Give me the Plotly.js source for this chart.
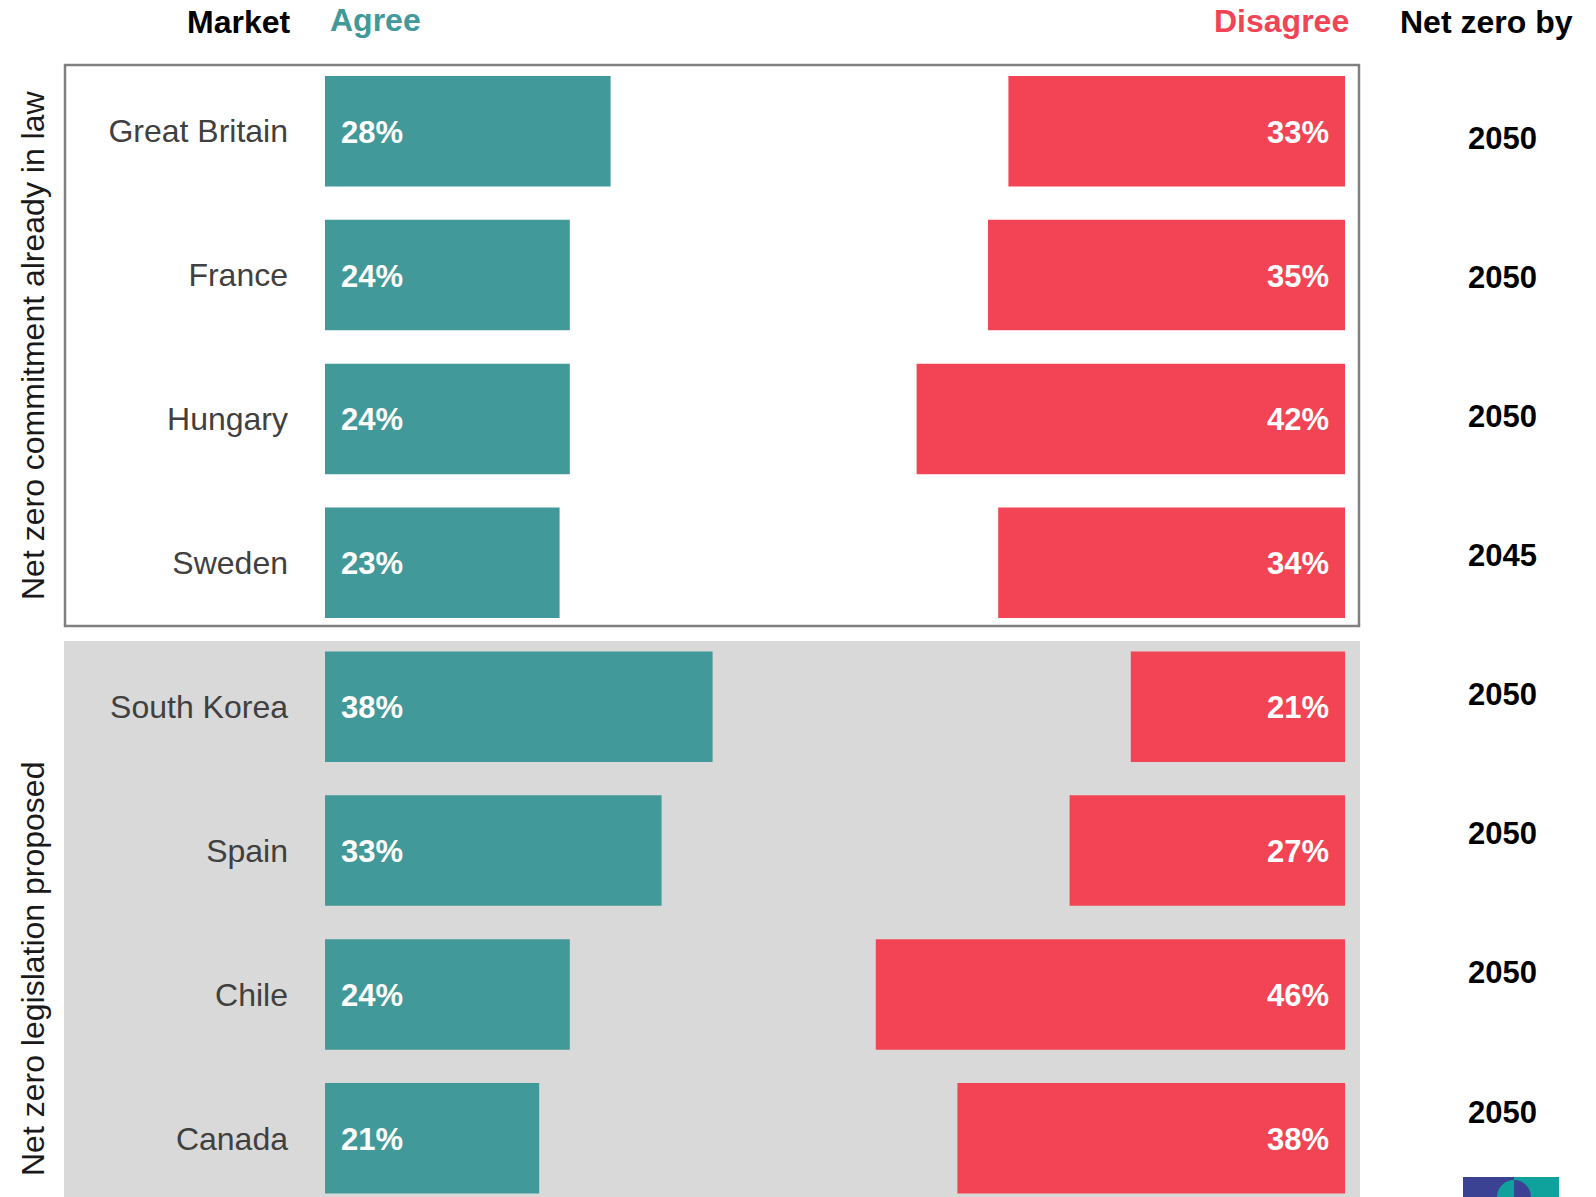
<!DOCTYPE html>
<html>
<head>
<meta charset="utf-8">
<script src="https://cdn.plot.ly/plotly-3.0.1.min.js"></script>
<style>html,body{margin:0;padding:0;background:#fff;}#chart{width:1596px;height:1197px;}</style>
</head>
<body>
<div id="chart"></div>
<script>
const markets = ['Great Britain','France','Hungary','Sweden','South Korea','Spain','Chile','Canada'];
const agree = [28, 24, 24, 23, 38, 33, 24, 21];
const disagree = [33, 35, 42, 34, 21, 27, 46, 38];
const netZeroBy = ['2050','2050','2050','2045','2050','2050','2050','2050'];
const groupLabels = ['Net zero commitment already in law', 'Net zero legislation proposed'];
const headerLabels = ['Market', 'Agree', 'Disagree', 'Net zero by'];

const TEAL = '#42999a';
const RED = '#f24455';
const FONT = 'Liberation Sans, Arial, sans-serif';
const W = 1596, H = 1197, L = 325, R = 1345;
const PW = R - L;
const px = v => (v - L) / PW;      // pixel x -> paper x
const py = v => 1 - v / H;         // pixel y -> paper y

const traces = [
  {
    type: 'bar', orientation: 'h', name: 'Agree',
    y: markets, x: agree, base: 0,
    xaxis: 'x', yaxis: 'y', width: 0.768,
    marker: {color: TEAL, line: {width: 0}},
    hoverinfo: 'skip'
  },
  {
    type: 'bar', orientation: 'h', name: 'Disagree',
    y: markets, x: disagree, base: 0,
    xaxis: 'x2', yaxis: 'y', width: 0.768,
    marker: {color: RED, line: {width: 0}},
    hoverinfo: 'skip'
  },
  {
    // carries the "Net zero by" column axis (y2); labels drawn as annotations
    type: 'scatter', mode: 'none', name: 'Net zero by',
    y: markets, x: markets.map(() => 50),
    xaxis: 'x', yaxis: 'y2', hoverinfo: 'skip'
  }
];

const annotations = [];
markets.forEach((m, i) => {
  annotations.push({
    xref: 'x', yref: 'y', x: 0, y: m, xanchor: 'left', yanchor: 'middle',
    xshift: 14, yshift: -1, showarrow: false, text: agree[i] + '%',
    font: {family: FONT, size: 31, color: '#ffffff', weight: 'bold'}
  });
  annotations.push({
    xref: 'x2', yref: 'y', x: 0, y: m, xanchor: 'right', yanchor: 'middle',
    xshift: -14, yshift: -1, showarrow: false, text: disagree[i] + '%',
    font: {family: FONT, size: 31, color: '#ffffff', weight: 'bold'}
  });
  annotations.push({
    xref: 'paper', yref: 'y2', x: px(1502), y: m, xanchor: 'center', yanchor: 'middle',
    showarrow: false, text: netZeroBy[i],
    font: {family: FONT, size: 31, color: '#000000', weight: 'bold'}
  });
});

const headerPos = [
  {x: px(293), y: py(22), anchor: 'right', color: '#000'},
  {x: px(328), y: py(20), anchor: 'left', color: TEAL},
  {x: px(1351), y: py(21), anchor: 'right', color: RED},
  {x: px(1398), y: py(22), anchor: 'left', color: '#000'}
];
headerLabels.forEach((t, i) => {
  const p = headerPos[i];
  annotations.push({
    xref: 'paper', yref: 'paper', x: p.x, y: p.y, xanchor: p.anchor, yanchor: 'middle',
    showarrow: false, text: t,
    font: {family: FONT, size: 32, color: p.color, weight: 'bold'}
  });
});

const groupY = [345, 969];
groupLabels.forEach((t, i) => {
  annotations.push({
    xref: 'paper', yref: 'paper', x: px(33), y: py(groupY[i]), xanchor: 'center', yanchor: 'middle',
    showarrow: false, text: t, textangle: -90,
    font: {family: FONT, size: 32, color: '#1a1a1a'}
  });
});

// logo (decorative, partly cut off at the bottom)
const cx = 1514, cy = 1197, rad = 17;
let half = '';
for (let k = 0; k <= 12; k++) {
  const a = -Math.PI / 2 + Math.PI * k / 12;
  const xx = cx + rad * Math.cos(a), yy = cy + rad * Math.sin(a);
  half += (k === 0 ? 'M ' : ' L ') + px(xx).toFixed(5) + ',' + py(yy).toFixed(5);
}
half += ' Z';

const shapes = [
  {type: 'rect', xref: 'paper', yref: 'paper', x0: px(64), x1: px(1360), y0: py(641), y1: py(1210),
   fillcolor: '#d9d9d9', line: {width: 0}, layer: 'below'},
  {type: 'rect', xref: 'paper', yref: 'paper', x0: px(65), x1: px(1359), y0: py(65), y1: py(626),
   fillcolor: '#ffffff', line: {color: '#808080', width: 2.5}, layer: 'below'},
  {type: 'rect', xref: 'paper', yref: 'paper', x0: px(1463), x1: px(1514), y0: py(1177), y1: py(1200),
   fillcolor: '#3b4294', line: {width: 0}, layer: 'above'},
  {type: 'rect', xref: 'paper', yref: 'paper', x0: px(1514), x1: px(1559), y0: py(1177), y1: py(1200),
   fillcolor: '#0fa19c', line: {width: 0}, layer: 'above'},
  {type: 'circle', xref: 'paper', yref: 'paper', x0: px(cx - rad), x1: px(cx + rad), y0: py(cy + rad), y1: py(cy - rad),
   fillcolor: '#0fa19c', line: {width: 0}, layer: 'above'},
  {type: 'path', xref: 'paper', yref: 'paper', path: half,
   fillcolor: '#3b4294', line: {width: 0}, layer: 'above'}
];

const layout = {
  width: W, height: H,
  margin: {l: L, r: W - R, t: 0, b: 0, pad: 0},
  paper_bgcolor: '#ffffff', plot_bgcolor: 'rgba(0,0,0,0)',
  showlegend: false, barmode: 'overlay',
  font: {family: FONT},
  xaxis: {range: [0, 100], visible: false, fixedrange: true},
  xaxis2: {range: [100, 0], overlaying: 'x', anchor: 'y', visible: false, fixedrange: true},
  yaxis: {
    type: 'category', categoryorder: 'array', categoryarray: markets,
    range: [7.408, -0.912], autorange: false, automargin: false,
    showgrid: false, zeroline: false, showline: false, ticks: '',
    ticklabelstandoff: 36,
    tickfont: {family: FONT, size: 32, color: '#404040'}
  },
  yaxis2: {
    type: 'category', categoryorder: 'array', categoryarray: markets,
    range: [7.611, -0.995], autorange: false, overlaying: 'y', anchor: 'x',
    visible: false, fixedrange: true
  },
  shapes: shapes,
  annotations: annotations
};

Plotly.newPlot('chart', traces, layout, {staticPlot: true, displayModeBar: false});
</script>
</body>
</html>
